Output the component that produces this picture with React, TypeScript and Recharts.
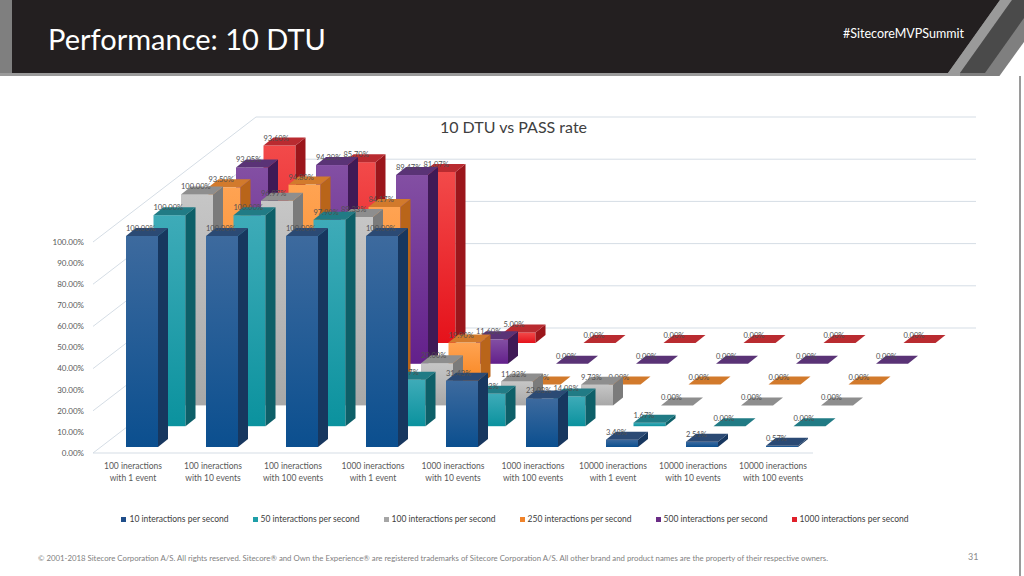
import React from 'react';
import { BarChart, Bar, XAxis, YAxis, CartesianGrid, ReferenceLine } from 'recharts';

const categories = [
  '100 ineractions with 1 event',
  '100 ineractions with 10 events',
  '100 ineractions with 100 events',
  '1000 ineractions with 1 event',
  '1000 ineractions with 10 events',
  '1000 ineractions with 100 events',
  '10000 ineractions with 1 event',
  '10000 ineractions with 10 events',
  '10000 ineractions with 100 events',
];

const seriesNames = [
  '10 interactions per second',
  '50 interactions per second',
  '100 interactions per second',
  '250 interactions per second',
  '500 interactions per second',
  '1000 interactions per second',
];
const seriesKeys = ['s10', 's50', 's100', 's250', 's500', 's1000'];

const s10 = [100, 100, 100, 100, 31.43, 23.03, 3.48, 2.51, 0.57];
const s50 = [100, 100, 97.9, 21.97, 15.32, 14.08, 1.67, 0, 0];
const s100 = [100, 96.97, 89.33, 20.0, 11.32, 9.73, 0, 0, 0];
const s250 = [93.5, 94.8, 84.17, 19.9, 0, 0, 0, 0, 0];
const s500 = [93.05, 94.2, 89.47, 11.6, 0, 0, 0, 0, 0];
const s1000 = [93.6, 85.7, 81.07, 5.0, 0, 0, 0, 0, 0];
const seriesValues = [s10, s50, s100, s250, s500, s1000];

const yTicks = [0, 10, 20, 30, 40, 50, 60, 70, 80, 90, 100];

const data = categories.map((name, i) => {
  const row: any = { name };
  seriesKeys.forEach((k, s) => {
    row[k] = seriesValues[s][i];
  });
  return row;
});

const palette = [
  { g1: '#3d6a9e', g2: '#0b4f8f', side: '#17375f', top: '#2b4a74', legend: '#1f4e8a' },
  { g1: '#3eabb8', g2: '#0b929e', side: '#0d5f68', top: '#217b85', legend: '#1e9fa8' },
  { g1: '#c6c6c6', g2: '#a8a8a8', side: '#7b7b7b', top: '#8e8e8e', legend: '#a6a6a6' },
  { g1: '#ffa352', g2: '#f8851f', side: '#b9651a', top: '#d27a2c', legend: '#f0832a' },
  { g1: '#834fa3', g2: '#63208b', side: '#3f1a56', top: '#5a3376', legend: '#6a2c85' },
  { g1: '#f24a4a', g2: '#e5121b', side: '#9b161b', top: '#b92b30', legend: '#e0202a' },
];

const FONT = 'Lato, "Open Sans", sans-serif';
const DEPTH_X = 27.5;
const DEPTH_Y = 20.8;

const makeShape = (s: number) => (props: any) => {
  const { x, y, width, height, payload } = props;
  const v = payload[seriesKeys[s]];
  const h = Math.max(0, height || 0);
  const w = width;
  const left = x + 9 + DEPTH_X * s;
  const base = y + h - 6 - DEPTH_Y * s;
  const top = base - h;
  const dx = 10;
  const dy = -8;
  const c = palette[s];
  return (
    <g>
      {h > 0 && <rect x={left} y={top} width={w} height={h} fill={`url(#front${s})`} />}
      {h > 0 && (
        <polygon
          points={`${left + w},${top} ${left + w + dx},${top + dy} ${left + w + dx},${base + dy} ${left + w},${base}`}
          fill={c.side}
        />
      )}
      <polygon
        points={`${left},${top} ${left + dx},${top + dy} ${left + w + dx},${top + dy} ${left + w},${top}`}
        fill={c.top}
      />
      <text x={left} y={top - 5} fontSize={7.5} fill="#505050" fontFamily={FONT}>
        {Number(v).toFixed(2)}%
      </text>
    </g>
  );
};

const BX = 163;
const BY = -125;

const gridLine = (props: any) => {
  const { x1, x2, y1 } = props;
  return (
    <g key={`grid-${y1}`}>
      <line x1={x1} y1={y1} x2={x1 + BX} y2={y1 + BY} stroke="#d5dde5" strokeWidth={1} />
      <line x1={x1 + BX} y1={y1 + BY} x2={x2 + BX} y2={y1 + BY} stroke="#d5dde5" strokeWidth={1} />
    </g>
  );
};

const XTick = (props: any) => {
  const { x, payload } = props;
  const label: string = payload.value;
  const idx = label.indexOf(' with ');
  const l1 = label.slice(0, idx);
  const l2 = label.slice(idx + 1);
  return (
    <text x={x} textAnchor="middle" fontSize={8.5} fill="#595959" fontFamily={FONT}>
      <tspan x={x} y={469}>{l1}</tspan>
      <tspan x={x} y={481}>{l2}</tspan>
    </text>
  );
};

const order = [5, 4, 3, 2, 1, 0];

export default function App() {
  return (
    <div
      style={{
        position: 'absolute',
        left: 0,
        top: 0,
        width: 1024,
        height: 576,
        background: '#ffffff',
        overflow: 'hidden',
        fontFamily: FONT,
      }}
    >
      <svg width={1024} height={78} style={{ position: 'absolute', left: 0, top: 0 }}>
        <rect x={0} y={0} width={1024} height={76} fill="#7f7f7f" />
        <polygon points="12,0 1000,0 948,73 12,73" fill="#231f20" />
        <polygon points="1000,0 1012,0 960,73 948,73" fill="#9a9a9a" />
        <polygon points="1012,0 1024,0 1024,18 985,73 960,73" fill="#4a4a4a" />
        <polygon points="1024,42 1024,78 998,78" fill="#ffffff" />
        <rect x={0} y={73} width={960} height={3} fill="#9a9a9a" />
        <text x={48} y={50} fill="#ffffff" fontSize={29} fontFamily={FONT}>
          Performance: 10 DTU
        </text>
        <text x={843} y={38} fill="#ffffff" fontSize={12.5} fontFamily={FONT}>
          #SitecoreMVPSummit
        </text>
      </svg>
      <div style={{ position: 'absolute', left: 1019, top: 76, width: 2, height: 500, background: '#9a9a9a' }} />

      <div
        style={{
          position: 'absolute',
          left: 0,
          top: 117,
          width: 1027,
          textAlign: 'center',
          fontSize: 16,
          color: '#404040',
          lineHeight: '20px',
        }}
      >
        10 DTU vs PASS rate
      </div>

      <BarChart
        width={1024}
        height={576}
        data={data}
        margin={{ top: 242, right: 211, bottom: 93, left: 40 }}
        style={{ position: 'absolute', left: 0, top: 0 }}
      >
        <defs>
          {palette.map((c, s) => (
            <linearGradient key={s} id={`front${s}`} x1="0" y1="0" x2="0" y2="1">
              <stop offset="0%" stopColor={c.g1} />
              <stop offset="100%" stopColor={c.g2} />
            </linearGradient>
          ))}
        </defs>
        <CartesianGrid horizontal={gridLine} vertical={false} xAxisId={0} />
        <ReferenceLine y={0} xAxisId={0} stroke="#d5dde5" strokeWidth={1} />
        {order.map((s) => (
          <XAxis
            key={`xa${s}`}
            xAxisId={s}
            dataKey="name"
            hide={s !== 0}
            axisLine={false}
            tickLine={false}
            tickSize={0}
            height={30}
            interval={0}
            tick={<XTick />}
          />
        ))}
        <YAxis
          width={53}
          domain={[0, 100]}
          ticks={yTicks}
          axisLine={false}
          tickLine={false}
          tickSize={0}
          tickMargin={9}
          tickFormatter={(v: number) => `${v.toFixed(2)}%`}
          tick={{ fontSize: 8, fill: '#595959', fontFamily: FONT }}
        />
        {order.map((s) => (
          <Bar
            key={seriesKeys[s]}
            xAxisId={s}
            dataKey={seriesKeys[s]}
            name={seriesNames[s]}
            barSize={32}
            isAnimationActive={false}
            shape={makeShape(s)}
          />
        ))}
      </BarChart>

      <div
        style={{
          position: 'absolute',
          left: 3,
          top: 512,
          width: 1024,
          display: 'flex',
          justifyContent: 'center',
          gap: 24,
          fontSize: 8.5,
          color: '#404040',
          lineHeight: '14px',
        }}
      >
        {seriesNames.map((n, s) => (
          <div key={n} style={{ display: 'flex', alignItems: 'center' }}>
            <span
              style={{ display: 'inline-block', width: 5, height: 5, background: palette[s].legend, marginRight: 3 }}
            />
            <span>{n}</span>
          </div>
        ))}
      </div>

      <div
        style={{
          position: 'absolute',
          left: 38,
          top: 553,
          fontSize: 7.8,
          color: '#7f7f7f',
          whiteSpace: 'nowrap',
          lineHeight: '10px',
        }}
      >
        © 2001-2018 Sitecore Corporation A/S. All rights reserved. Sitecore® and Own the Experience® are registered trademarks of Sitecore Corporation A/S. All other brand and product names are the property of their respective owners.
      </div>
      <div style={{ position: 'absolute', left: 968, top: 551, fontSize: 9, color: '#8c8c8c', lineHeight: '12px' }}>31</div>
    </div>
  );
}
